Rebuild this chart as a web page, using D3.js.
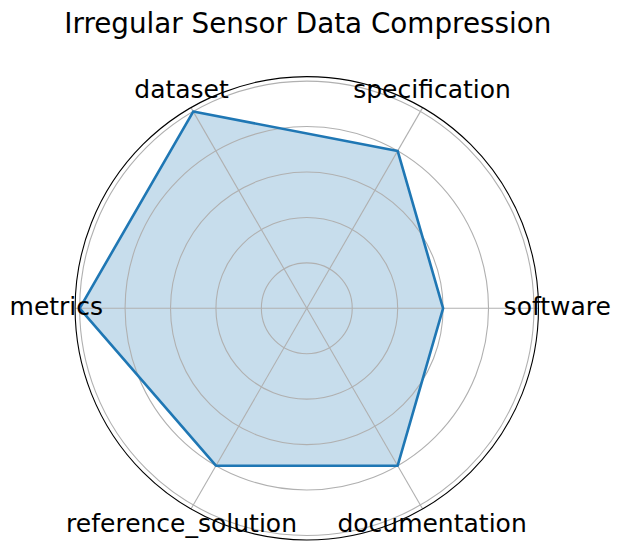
<!DOCTYPE html>
<html>
<head>
<meta charset="utf-8">
<script src="https://cdn.jsdelivr.net/npm/d3@7"></script>
<style>
  html, body { margin: 0; padding: 0; background: #fff; }
  svg { display: block; }
  text { font-family: "DejaVu Sans", sans-serif; fill: #000; }
</style>
</head>
<body>
<svg id="chart" width="621" height="549"></svg>
<script>
const categories = ["software", "specification", "dataset", "metrics", "reference_solution", "documentation"];
const values = [3, 4, 5, 5, 4, 4];
const gridLevels = [1, 2, 3, 4, 5];
const chartTitle = "Irregular Sensor Data Compression";

const W = 621, H = 549;
const cx = 306.8, cy = 308.3;
const outerR = 231.7;
const rMax = 5.1;

const svg = d3.select("#chart");
const g = svg.append("g").attr("transform", `translate(${cx},${cy})`);

const r = d3.scaleLinear().domain([0, rMax]).range([0, outerR]);
const angle = d3.scaleLinear().domain([0, categories.length]).range([0, 2 * Math.PI]);

// angle measured counterclockwise from east (matplotlib polar default)
const px = (a, rad) => rad * Math.cos(a);
const py = (a, rad) => -rad * Math.sin(a);

const pts = values.map((v, i) => [px(angle(i), r(v)), py(angle(i), r(v))]);
const line = d3.line().curve(d3.curveLinearClosed);

// data fill (below grid)
g.append("path")
  .attr("d", line(pts))
  .attr("fill", "#1f77b4")
  .attr("fill-opacity", 0.25)
  .attr("stroke", "none");

// grid circles
g.selectAll("circle.grid").data(gridLevels).enter().append("circle")
  .attr("class", "grid")
  .attr("r", d => r(d))
  .attr("fill", "none")
  .attr("stroke", "#b0b0b0")
  .attr("stroke-width", 1.1);

// spokes
g.selectAll("line.spoke").data(categories).enter().append("line")
  .attr("class", "spoke")
  .attr("x1", 0).attr("y1", 0)
  .attr("x2", (d, i) => px(angle(i), outerR))
  .attr("y2", (d, i) => py(angle(i), outerR))
  .attr("stroke", "#b0b0b0")
  .attr("stroke-width", 1.1);

// data line
g.append("path")
  .attr("d", line(pts))
  .attr("fill", "none")
  .attr("stroke", "#1f77b4")
  .attr("stroke-width", 2.6)
  .attr("stroke-linejoin", "round");

// outer spine
g.append("circle")
  .attr("r", outerR)
  .attr("fill", "none")
  .attr("stroke", "#000")
  .attr("stroke-width", 1.1);

// category labels
const labelR = 250.5;
g.selectAll("text.cat").data(categories).enter().append("text")
  .attr("class", "cat")
  .attr("x", (d, i) => px(angle(i), labelR))
  .attr("y", (d, i) => py(angle(i), labelR) + 6.8)
  .attr("text-anchor", "middle")
  .attr("font-size", "25px")
  .text(d => d);

// title
svg.append("text")
  .attr("x", cx + 1)
  .attr("y", 32.5)
  .attr("text-anchor", "middle")
  .attr("font-size", "27.8px")
  .text(chartTitle);
</script>
</body>
</html>
